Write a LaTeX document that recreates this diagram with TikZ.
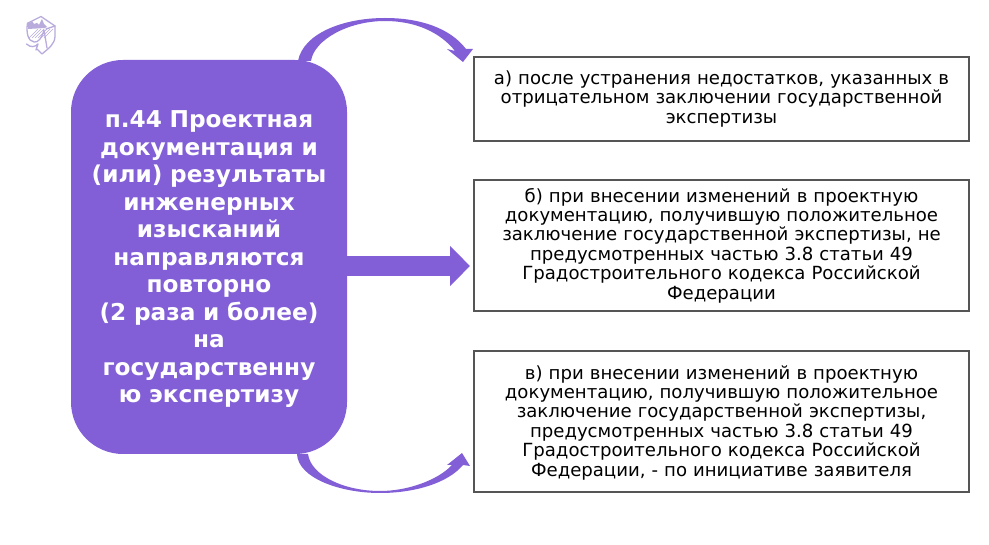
\documentclass[tikz,border=0pt]{standalone}
\usepackage{fontspec}
\setmainfont{DejaVu Sans}
\usetikzlibrary{arrows.meta}
\definecolor{violet}{HTML}{825FD7}
\definecolor{logoviolet}{HTML}{B9ACDD}
\definecolor{boxline}{HTML}{555555}
\tikzset{
  x=1pt,y=-1pt,
  mainbox/.style={fill=violet,draw=none,rounded corners=52pt,minimum width=276pt,minimum height=394pt,
    text width=270pt,align=center,text=white,inner sep=0pt,font=\fontsize{23.2}{27.5}\selectfont\bfseries},
  infobox/.style={draw=boxline,line width=1.2pt,fill=white,minimum width=495pt,text width=490pt,align=center,
    inner sep=0pt,font=\fontsize{18.1}{19.4}\selectfont},
  flow/.style={fill=violet,draw=none},
  logo/.style={draw=logoviolet,line width=1.3pt,line cap=round,line join=round,fill=none},
  hatch/.style={draw=logoviolet,line width=.6pt},
}
\begin{document}
\begin{tikzpicture}
\useasboundingbox (0,0) rectangle (989,545);
\fill[white] (0,0) rectangle (989,545);
% logo
\fill[logoviolet] (28,29) -- (28,22) -- (30,23) -- (32,21) -- (34,24) -- (37,23) -- (39,25) -- (42,19) -- (44,24) -- (47,27) -- (45,28) -- cycle;
\foreach \d in {0,3,...,15}{\draw[hatch] (29+\d,38) -- (29+\d+9,29);}
\draw[logo] (28,23) -- (41,16.5) -- (55,26) -- (55,36) .. controls (55,44) and (49,48) .. (42,54) -- (37,49);
\draw[logo] (27.5,23) .. controls (26,33) and (28,41) .. (34,42) .. controls (38,43) and (42,38) .. (44,30) -- (47,48);
\draw[logo] (26.5,44) .. controls (31,48) and (35,47) .. (38,44) -- (36,50);
\draw[logo] (46,29) -- (55,26);
% boxes
\node[mainbox] (main) at (209,257) {\rule{0pt}{21.6pt}п.44 Проектная\\документация и\\(или) результаты\\инженерных\\изысканий\\направляются\\повторно\\(2 раза и более)\\на\\государственну\\ю экспертизу};
\node[infobox,minimum height=84pt] (a) at (721.5,99) {а) после устранения недостатков, указанных в\\отрицательном заключении государственной\\экспертизы};
\node[infobox,minimum height=131pt] (b) at (721.5,245.5) {б) при внесении изменений в проектную\\документацию, получившую положительное\\заключение государственной экспертизы, не\\предусмотренных частью 3.8 статьи 49\\Градостроительного кодекса Российской\\Федерации};
\node[infobox,minimum height=141pt] (c) at (721.5,421.5) {\rule{0pt}{16pt}в) при внесении изменений в проектную\\документацию, получившую положительное\\заключение государственной экспертизы,\\предусмотренных частью 3.8 статьи 49\\Градостроительного кодекса Российской\\Федерации, - по инициативе заявителя};
% connectors
\coordinate (midstart) at (main.east |- 0,266);
\coordinate (midend) at (470,266);
\draw[violet,line width=20pt,-{Triangle[width=39pt,length=20pt]}] (midstart) -- (midend);
\fill[flow] (298,61) .. controls (303,34) and (342,18) .. (385,18) .. controls (420,18) and (450,28) .. (466,49)
  -- (473,49) -- (463,62) -- (447,49) -- (455,51) .. controls (440,32) and (415,21) .. (385,21)
  .. controls (348,21) and (314,40) .. (311,61) -- cycle;
\fill[flow] (297,454) .. controls (298,478) and (340,493) .. (380,493) .. controls (415,493) and (448,483) .. (463,465)
  -- (470,466) -- (462,453) -- (447,465) -- (452,465) .. controls (438,480) and (408,491) .. (380,491)
  .. controls (345,491) and (311,476) .. (308,454) -- cycle;
\end{tikzpicture}
\end{document}
